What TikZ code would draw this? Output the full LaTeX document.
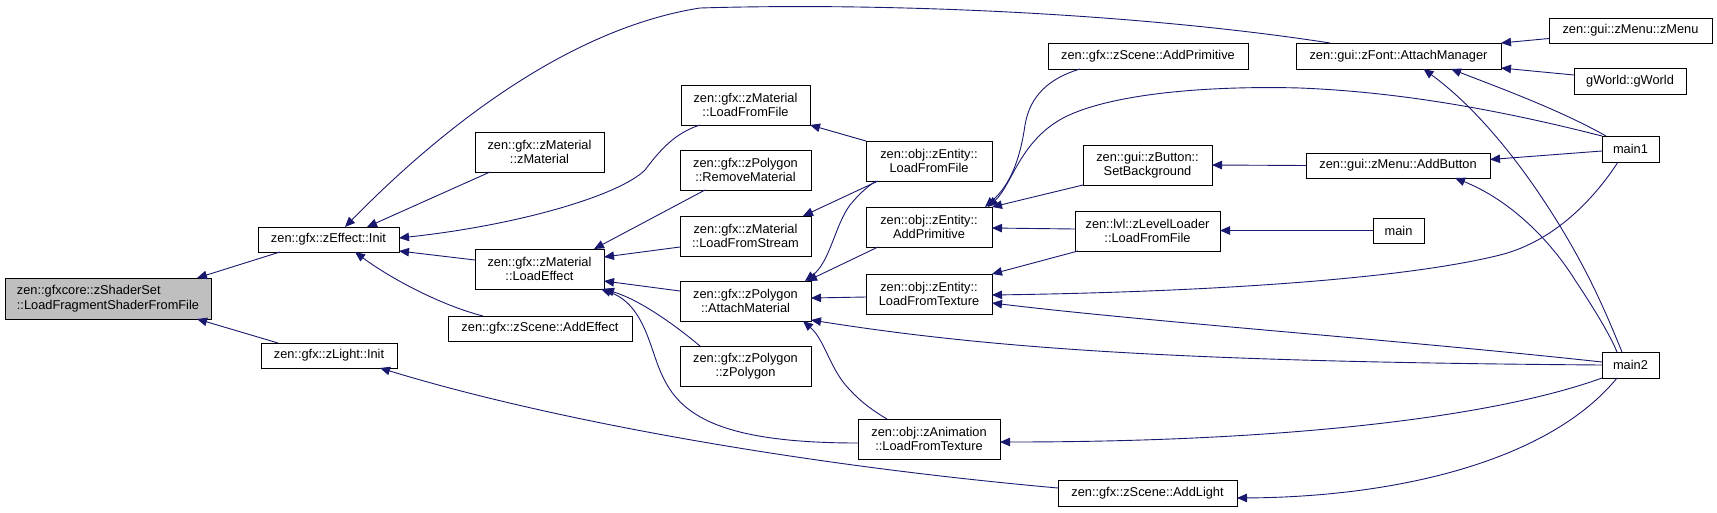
\documentclass[tikz,border=0pt]{standalone}
\usepackage{fontspec}
\setmainfont{Liberation Sans}
\usetikzlibrary{arrows.meta}
\definecolor{navy}{HTML}{191970}
\definecolor{nodegray}{HTML}{BFBFBF}
\tikzset{
  box/.style={draw=black, line width=1pt, fill=white, inner sep=0pt, outer sep=0pt, align=center,
    font=\fontsize{12.8pt}{14.5pt}\selectfont},
  link/.style={draw=navy, line width=0.9pt, {Triangle[length=10pt,width=8.5pt,fill=navy]}-}
}
\begin{document}
\begin{tikzpicture}[x=1pt,y=-1pt]
\useasboundingbox[fill=white] (0,0) rectangle (1717,512);
% nodes
\node[box, fill=nodegray, minimum width=206pt, minimum height=41pt, align=left] (lfs) at (108,298.5) {zen::gfxcore::zShaderSet\\::LoadFragmentShaderFromFile};
\node[box, minimum width=141pt, minimum height=25pt] (effInit) at (328.5,239.5) {zen::gfx::zEffect::Init};
\node[box, minimum width=136pt, minimum height=25pt] (lightInit) at (329,355.5) {zen::gfx::zLight::Init};
\node[box, minimum width=129pt, minimum height=40pt] (matCtor) at (539.5,152) {zen::gfx::zMaterial\\::zMaterial};
\node[box, minimum width=129pt, minimum height=40pt] (loadEffect) at (539.5,269) {zen::gfx::zMaterial\\::LoadEffect};
\node[box, minimum width=184pt, minimum height=25pt] (addEffect) at (540,328.5) {zen::gfx::zScene::AddEffect};
\node[box, minimum width=129pt, minimum height=40pt] (matLFF) at (745.5,105) {zen::gfx::zMaterial\\::LoadFromFile};
\node[box, minimum width=131pt, minimum height=40pt] (removeMat) at (745.5,170) {zen::gfx::zPolygon\\::RemoveMaterial};
\node[box, minimum width=131pt, minimum height=40pt] (matLFS) at (745.5,236) {zen::gfx::zMaterial\\::LoadFromStream};
\node[box, minimum width=131pt, minimum height=40pt] (attachMat) at (745.5,301) {zen::gfx::zPolygon\\::AttachMaterial};
\node[box, minimum width=131pt, minimum height=40pt] (polyCtor) at (745.5,366) {zen::gfx::zPolygon\\::zPolygon};
\node[box, minimum width=200pt, minimum height=26pt] (sceneAddPrim) at (1148,56) {zen::gfx::zScene::AddPrimitive};
\node[box, minimum width=126pt, minimum height=40pt] (entLFF) at (929,161) {zen::obj::zEntity::\\LoadFromFile};
\node[box, minimum width=126pt, minimum height=40pt] (entAddPrim) at (929,227) {zen::obj::zEntity::\\AddPrimitive};
\node[box, minimum width=129pt, minimum height=40pt] (setBg) at (1147.5,165) {zen::gui::zButton::\\SetBackground};
\node[box, minimum width=145pt, minimum height=40pt] (lvlLFF) at (1147.5,231) {zen::lvl::zLevelLoader\\::LoadFromFile};
\node[box, minimum width=126pt, minimum height=40pt] (entLFT) at (929,294) {zen::obj::zEntity::\\LoadFromTexture};
\node[box, minimum width=142pt, minimum height=40pt] (animLFT) at (929,439) {zen::obj::zAnimation\\::LoadFromTexture};
\node[box, minimum width=179pt, minimum height=26pt] (addLight) at (1147.5,493) {zen::gfx::zScene::AddLight};
\node[box, minimum width=205pt, minimum height=26pt] (attachMgr) at (1398.5,56) {zen::gui::zFont::AttachManager};
\node[box, minimum width=163pt, minimum height=25pt] (menuCtor) at (1630.5,30.5) {zen::gui::zMenu::zMenu};
\node[box, minimum width=112pt, minimum height=26pt] (gworld) at (1630,81) {gWorld::gWorld};
\node[box, minimum width=184pt, minimum height=25pt] (addButton) at (1398,165.5) {zen::gui::zMenu::AddButton};
\node[box, minimum width=57pt, minimum height=26pt] (main1) at (1630.5,149) {main1};
\node[box, minimum width=51pt, minimum height=25pt] (mainN) at (1398.5,230.5) {main};
\node[box, minimum width=57pt, minimum height=26pt] (main2) at (1630.5,365) {main2};
% edges
\draw[link] ([xshift=-14pt]lfs.north east) -- ([xshift=22pt]effInit.south west);
\draw[link] ([xshift=-14pt]lfs.south east) -- ([xshift=17pt]lightInit.north west);
\draw[link] ([xshift=87pt]effInit.north west) .. controls (430,140) and (560,30) .. (700,8) .. controls (900,2) and (1150,15) .. ([xshift=34pt]attachMgr.north west);
\draw[link] ([xshift=-32pt]effInit.north east) -- ([xshift=15pt]matCtor.south west);
\draw[link] ([yshift=1.5pt]effInit.east) .. controls (520,225) and (620,195) .. (645,170) .. controls (660,150) and (675,133) .. ([xshift=19pt]matLFF.south west);
\draw[link] ([yshift=-11.5pt]effInit.east) -- ([yshift=9pt]loadEffect.west);
\draw[link] ([xshift=97pt]effInit.south west) .. controls (390,278) and (440,305) .. ([xshift=35pt]addEffect.north west);
\draw[link] ([xshift=-17pt]lightInit.south east) .. controls (550,420) and (800,465) .. ([yshift=5pt]addLight.west);
\draw[link] ([xshift=-10pt]loadEffect.north east) -- ([xshift=25pt]removeMat.south west);
\draw[link] ([yshift=12pt]loadEffect.east) -- ([yshift=-11pt]matLFS.west);
\draw[link] ([yshift=-12pt]loadEffect.east) -- ([yshift=10pt]attachMat.west);
\draw[link] (loadEffect.south east) .. controls (640,300) and (675,325) .. ([xshift=20pt]polyCtor.north west);
\draw[link] ([xshift=-3pt]loadEffect.south east) .. controls (645,305) and (650,350) .. (662,375) .. controls (680,415) and (720,443) .. ([yshift=-4pt]animLFT.west);
\draw[link] (matLFF.south east) -- (entLFF.north west);
\draw[link] ([xshift=-8pt]matLFS.north east) -- ([xshift=12pt]entLFF.south west);
\draw[link] ([xshift=-6pt]attachMat.north east) .. controls (830,262) and (835,225) .. (850,205) .. controls (858,195) and (868,186) .. ([xshift=10pt]entLFF.south west);
\draw[link] ([xshift=-4pt]attachMat.north east) -- ([xshift=12pt]entAddPrim.south west);
\draw[link] ([yshift=3pt]attachMat.east) -- ([yshift=-3pt]entLFT.west);
\draw[link] ([yshift=-19pt]attachMat.east) .. controls (1000,350) and (1200,362) .. (main2.west);
\draw[link] ([xshift=-8pt]attachMat.south east) .. controls (825,340) and (830,370) .. (850,390) .. controls (862,403) and (875,412) .. ([xshift=29pt]animLFT.north west);
\draw[link] ([xshift=-7pt]entAddPrim.north east) .. controls (1010,185) and (1020,160) .. (1025,125) .. controls (1030,95) and (1050,78) .. ([xshift=32pt]sceneAddPrim.south west);
\draw[link] ([xshift=-4pt]entAddPrim.north east) .. controls (1012,185) and (1020,140) .. (1065,117) .. controls (1120,90) and (1230,86) .. (1300,88) .. controls (1400,92) and (1500,110) .. (main1.north west);
\draw[link] (entAddPrim.north east) -- (setBg.south west);
\draw[link] ([yshift=-1pt]entAddPrim.east) -- ([yshift=2pt]lvlLFF.west);
\draw[link] (entLFT.north east) -- ([xshift=3pt]lvlLFF.south west);
\draw[link] ([yshift=-1pt]entLFT.east) .. controls (1200,292) and (1400,280) .. (1500,255) .. controls (1560,240) and (1600,190) .. ([xshift=16pt]main1.south west);
\draw[link] ([yshift=-9pt]entLFT.east) .. controls (1150,322) and (1400,340) .. ([yshift=3pt]main2.west);
\draw[link] ([yshift=-3pt]animLFT.east) .. controls (1300,442) and (1500,415) .. (main2.south west);
\draw[link] ([yshift=-5pt]addLight.east) .. controls (1400,497) and (1550,460) .. ([xshift=15pt]main2.south west);
\draw[link] (setBg.east) -- (addButton.west);
\draw[link] ([yshift=0.5pt]lvlLFF.east) -- (mainN.west);
\draw[link] (attachMgr.north east) -- ([yshift=-8pt]menuCtor.west);
\draw[link] ([yshift=-12pt]attachMgr.east) -- ([yshift=6pt]gworld.west);
\draw[link] ([xshift=-50pt]attachMgr.south east) .. controls (1500,88) and (1560,110) .. ([xshift=4pt]main1.north west);
\draw[link] ([xshift=25pt]attachMgr.south) .. controls (1500,125) and (1560,220) .. (1590,280) .. controls (1605,310) and (1615,335) .. ([xshift=20pt]main2.north west);
\draw[link] ([xshift=-35pt]addButton.south east) .. controls (1510,200) and (1550,240) .. (1575,280) .. controls (1595,310) and (1610,335) .. ([xshift=15pt]main2.north west);
\draw[link] ([yshift=6pt]addButton.east) -- ([yshift=-2pt]main1.west);
\end{tikzpicture}
\end{document}
